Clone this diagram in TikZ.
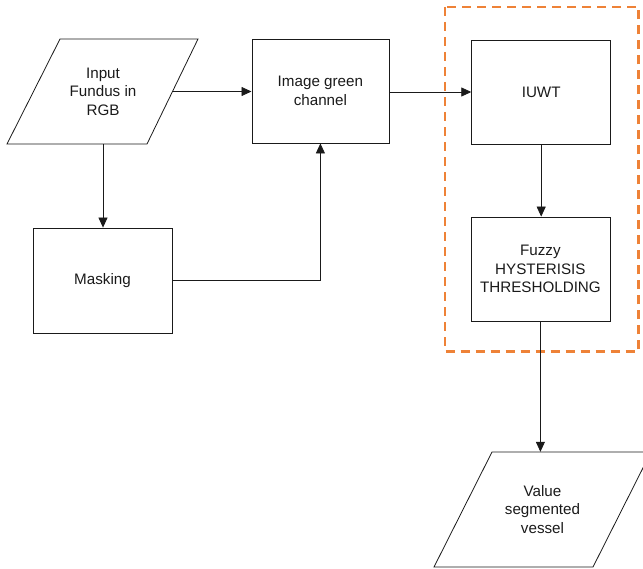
\documentclass[tikz,border=0pt]{standalone}
\usepackage{fontspec}
\setmainfont{Liberation Sans}
\usetikzlibrary{arrows.meta}
\definecolor{frameorange}{HTML}{EE8237}
\definecolor{ink}{HTML}{1A1A1A}
\tikzset{
  boxnode/.style={draw=ink, line width=0.8bp, rectangle, minimum width=139bp, minimum height=104bp, inner sep=2bp, align=center, text=ink, font=\fontsize{15.2bp}{18.5bp}\selectfont},
  ionode/.style={rectangle, minimum width=139bp, minimum height=105bp, inner sep=2bp, align=center, text=ink, font=\fontsize{15.2bp}{18.5bp}\selectfont},
  shapeline/.style={draw=ink, line width=0.8bp},
  conn/.style={draw=ink, line width=0.8bp, -{Triangle[length=10bp,width=9bp]}},
  plainconn/.style={draw=ink, line width=0.8bp},
  groupframe/.style={draw=frameorange, line width=2.4bp, dash pattern=on 9bp off 6bp}
}
\begin{document}
\begin{tikzpicture}[x=1bp,y=-1bp]
\useasboundingbox (0,0) rectangle (643,569);
\clip (0,0) rectangle (643,569);
% input parallelogram
\draw[shapeline] (60,39) -- (198,39) -- (147,144) -- (7,144) -- cycle;
\node[ionode] (in) at (103,91.5) {Input\\Fundus in\\RGB};
% output parallelogram
\draw[shapeline] (492,452) -- (651,452) -- (593,567) -- (434,567) -- cycle;
\node[ionode, minimum height=115bp] (out) at (542.5,509.5) {Value\\segmented\\vessel};
% boxes
\node[boxnode, minimum width=137bp] (green) at (320.4,91) {Image green\\channel};
\node[boxnode] (iuwt) at (541.2,92) {IUWT};
\node[boxnode] (fz) at (540.4,269) {Fuzzy\\HYSTERISIS\\THRESHOLDING};
\node[boxnode, minimum height=105bp] (mask) at (102.5,280.5) {Masking};
% group frame
\draw[groupframe] (445,7) rectangle (638.5,351.5);
% connectors
\draw[conn] (in.east) -- (in.east -| green.west);
\draw[conn] (green.east |- iuwt.west) -- (iuwt.west);
\draw[conn] (in.south) -- (in.south |- mask.north);
\draw[conn] (mask.east) -| (green.south);
\draw[conn] (iuwt.south) -- (iuwt.south |- fz.north);
\draw[conn] (fz.south) -- (fz.south |- out.north);
\end{tikzpicture}
\end{document}
